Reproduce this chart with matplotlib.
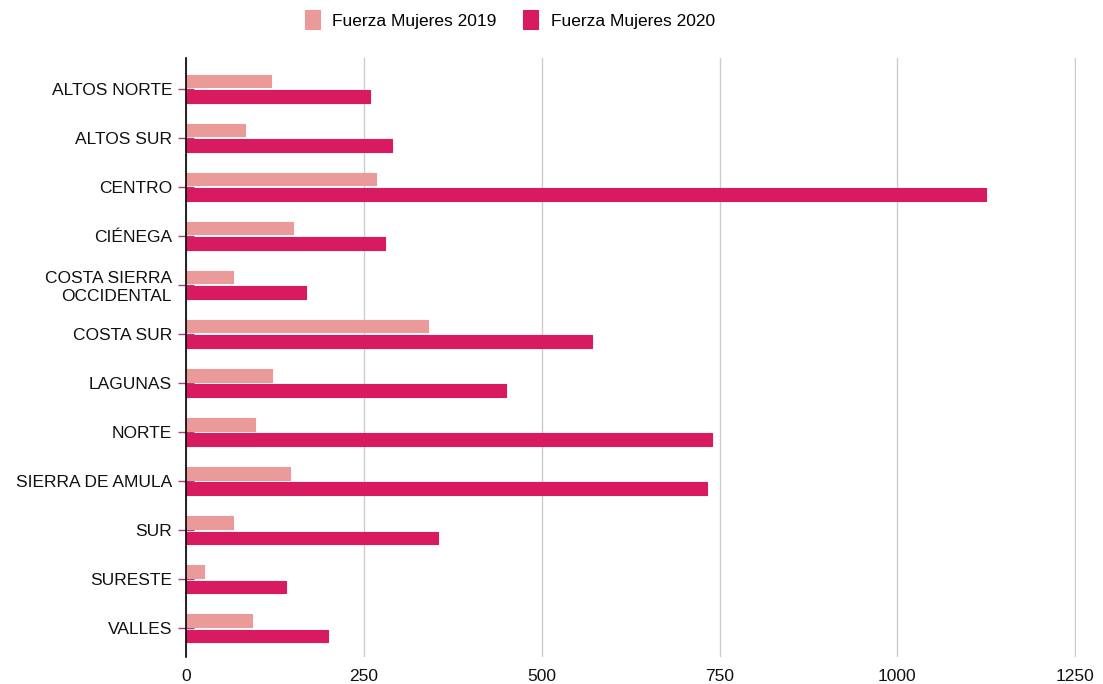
import matplotlib.pyplot as plt
import numpy as np

# regiones y valores
regiones = ['ALTOS NORTE', 'ALTOS SUR', 'CENTRO', 'CIÉNEGA',
            'COSTA SIERRA\nOCCIDENTAL', 'COSTA SUR', 'LAGUNAS', 'NORTE',
            'SIERRA DE AMULA', 'SUR', 'SURESTE', 'VALLES']
mujeres_2019 = [120, 83, 267, 150, 66, 340, 121, 97, 146, 66, 25, 93]
mujeres_2020 = [259, 290, 1124, 280, 169, 571, 450, 739, 732, 354, 141, 200]
ticks_x = [0, 250, 500, 750, 1000, 1250]

color_2019 = '#ea9a98'
color_2020 = '#d81b60'

plt.rcParams['font.family'] = ['Liberation Sans', 'DejaVu Sans']
plt.rcParams['font.size'] = 12.5

fig = plt.figure(figsize=(11.03, 6.84), dpi=100)
ax = fig.add_axes([0.1686, 0.0395, 0.8069, 0.8757])

y = np.arange(len(regiones))
alto = 0.26
ax.barh(y - 0.16, mujeres_2019, height=alto, color=color_2019,
        edgecolor=color_2019, linewidth=0.8, joinstyle='round',
        label='Fuerza Mujeres 2019', zorder=3)
ax.barh(y + 0.16, mujeres_2020, height=alto, color=color_2020,
        edgecolor=color_2020, linewidth=0.8, joinstyle='round',
        label='Fuerza Mujeres 2020', zorder=3)

ax.set_xlim(0, 1251)
ax.set_ylim(11.59, -0.63)
ax.set_xticks(ticks_x)
ax.set_xticklabels([str(t) for t in ticks_x])
ax.set_yticks(y)
ax.set_yticklabels(regiones)

ax.grid(axis='x', color='#cccccc', linewidth=1, zorder=0)
ax.set_axisbelow(True)
for lado in ['top', 'right', 'bottom']:
    ax.spines[lado].set_visible(False)
ax.spines['left'].set_color('black')
ax.spines['left'].set_linewidth(1.2)
ax.spines['left'].set_zorder(4)

ax.tick_params(axis='x', length=0, pad=9, labelsize=12.5, colors='#111111')
ax.tick_params(axis='y', direction='inout', length=12, width=1,
               color='#a8407a', pad=4, labelsize=12.5, labelcolor='#111111')

fig.legend(loc='center', bbox_to_anchor=(0.462, 0.971), ncol=2,
           frameon=False, fontsize=12.5, handlelength=0.9, handleheight=1.3,
           columnspacing=1.5, handletextpad=0.7)

fig.savefig('out.png', dpi=100)
